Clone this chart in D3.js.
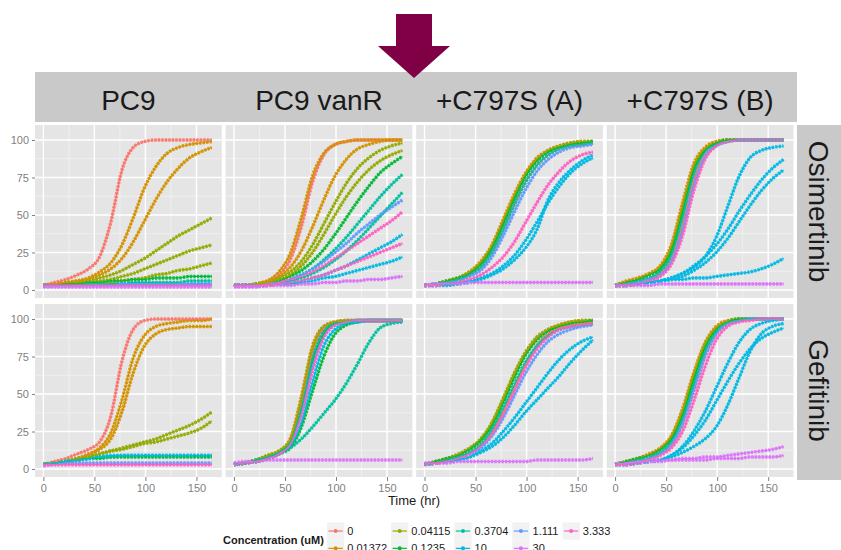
<!DOCTYPE html>
<html>
<head>
<meta charset="utf-8">
<script src="https://cdn.jsdelivr.net/npm/d3@7"></script>
<style>
  body { margin: 0; background: #fff; }
  svg { display: block; font-family: "Liberation Sans", Arial, sans-serif; }
</style>
</head>
<body>
<div id="chart"></div>
<script>
const hours = [0, 11, 22, 33, 44, 55, 66, 77, 88, 99, 110, 121, 132, 143, 154, 165];
const cellLines = ["PC9", "PC9 vanR", "+C797S (A)", "+C797S (B)"];
const drugs = ["Osimertinib", "Gefitinib"];
const concLevels = ["0", "0.01372", "0.04115", "0.1235", "0.3704", "10", "1.111", "30", "3.333"];
const concColors = ["#F8766D", "#D39200", "#93AA00", "#00BA38", "#00C19F", "#00B9E3", "#619CFF", "#DB72FB", "#FF61C3"];
const yTicks = [0, 25, 50, 75, 100];
const xTicks = [0, 50, 100, 150];

// confluence (%) per concentration, one row per replicate
const osiPC9 = [
  ["0", [3, 5, 7, 10, 14, 22, 45, 80, 95, 99, 100, 100, 100, 100, 100, 100]],
  ["0.01372", [3, 4, 5, 6, 8, 12, 18, 30, 48, 68, 82, 91, 95, 97, 98, 99]],
  ["0.01372", [3, 4, 5, 6, 7, 10, 14, 21, 32, 46, 60, 72, 81, 88, 92, 95]],
  ["0.04115", [3, 3, 4, 5, 6, 8, 10, 13, 17, 21, 26, 31, 36, 40, 44, 48]],
  ["0.04115", [3, 3, 4, 4, 5, 6, 7, 9, 11, 14, 17, 20, 23, 26, 28, 30]],
  ["0.04115", [3, 3, 3, 4, 4, 5, 5, 6, 7, 8, 10, 11, 13, 14, 16, 18]],
  ["0.1235", [3, 3, 4, 4, 5, 5, 6, 6, 7, 7, 8, 8, 8, 9, 9, 9]],
  ["0.3704", [3, 3, 3, 3, 4, 4, 4, 4, 5, 5, 5, 5, 5, 6, 6, 6]],
  ["10", [3, 3, 3, 3, 3, 3, 4, 4, 4, 4, 4, 4, 4, 4, 4, 4]],
  ["1.111", [3, 3, 3, 3, 3, 3, 3, 4, 4, 4, 4, 4, 4, 4, 4, 4]],
  ["30", [2, 2, 2, 2, 2, 2, 2, 2, 2, 2, 2, 2, 2, 2, 2, 2]],
  ["3.333", [3, 3, 3, 3, 3, 3, 3, 3, 3, 3, 3, 3, 3, 3, 3, 3]]
];

const osiVanR = [
  ["0", [3, 3, 4, 6, 10, 20, 42, 72, 90, 97, 99, 100, 100, 100, 100, 100]],
  ["0.01372", [3, 3, 4, 6, 12, 24, 48, 76, 91, 97, 99, 100, 100, 100, 100, 100]],
  ["0.01372", [3, 3, 4, 6, 9, 15, 26, 42, 60, 76, 87, 94, 97, 99, 100, 100]],
  ["0.04115", [3, 3, 4, 5, 8, 12, 19, 30, 44, 58, 71, 81, 88, 93, 96, 98]],
  ["0.04115", [3, 3, 4, 5, 7, 10, 16, 25, 37, 50, 62, 72, 80, 86, 90, 93]],
  ["0.1235", [3, 3, 3, 4, 6, 9, 13, 19, 27, 37, 48, 59, 69, 78, 84, 89]],
  ["0.3704", [3, 3, 3, 4, 5, 7, 10, 14, 20, 27, 35, 44, 53, 62, 70, 77]],
  ["0.3704", [3, 3, 3, 4, 5, 6, 8, 11, 15, 20, 26, 33, 41, 49, 57, 65]],
  ["10", [3, 3, 3, 3, 4, 5, 6, 8, 10, 13, 16, 20, 24, 28, 32, 37]],
  ["10", [3, 3, 3, 3, 4, 4, 5, 6, 8, 9, 11, 13, 15, 17, 19, 22]],
  ["1.111", [3, 3, 3, 4, 5, 7, 10, 14, 19, 25, 31, 38, 44, 50, 55, 60]],
  ["30", [2, 2, 2, 3, 3, 3, 4, 4, 5, 5, 6, 6, 7, 7, 8, 9]],
  ["3.333", [3, 3, 3, 4, 5, 7, 9, 12, 16, 21, 26, 31, 36, 41, 46, 52]],
  ["3.333", [3, 3, 3, 3, 4, 5, 6, 8, 10, 13, 16, 19, 22, 25, 28, 31]]
];

const osiC797SA = [
  ["0", [3, 4, 5, 7, 10, 15, 25, 40, 57, 72, 83, 90, 94, 96, 97, 98]],
  ["0.01372", [3, 4, 6, 8, 12, 19, 30, 47, 64, 78, 88, 93, 96, 98, 99, 99]],
  ["0.04115", [3, 4, 6, 8, 12, 18, 29, 45, 62, 77, 87, 93, 96, 98, 99, 99]],
  ["0.1235", [3, 4, 6, 8, 11, 17, 28, 44, 61, 76, 86, 92, 95, 97, 98, 99]],
  ["0.3704", [3, 4, 5, 7, 10, 15, 25, 40, 57, 72, 83, 90, 94, 96, 97, 98]],
  ["10", [3, 3, 4, 5, 6, 8, 11, 16, 23, 33, 45, 58, 69, 78, 84, 88]],
  ["10", [3, 3, 3, 4, 5, 7, 10, 14, 20, 28, 40, 60, 72, 80, 86, 90]],
  ["1.111", [3, 4, 5, 6, 9, 13, 22, 36, 52, 67, 79, 87, 92, 95, 96, 97]],
  ["30", [3, 4, 4, 4, 5, 5, 5, 5, 5, 5, 5, 5, 5, 5, 5, 5]],
  ["3.333", [3, 3, 4, 5, 7, 10, 15, 22, 32, 45, 58, 70, 79, 86, 90, 92]]
];

const osiC797SB = [
  ["0", [3, 4, 5, 7, 11, 20, 43, 73, 91, 97, 99, 100, 100, 100, 100, 100]],
  ["0.01372", [3, 6, 8, 11, 16, 30, 58, 84, 95, 99, 100, 100, 100, 100, 100, 100]],
  ["0.04115", [3, 5, 7, 10, 15, 27, 54, 81, 94, 98, 100, 100, 100, 100, 100, 100]],
  ["0.1235", [3, 5, 7, 10, 14, 26, 52, 80, 93, 98, 100, 100, 100, 100, 100, 100]],
  ["0.3704", [3, 4, 6, 8, 12, 23, 48, 77, 92, 97, 99, 100, 100, 100, 100, 100]],
  ["10", [3, 3, 4, 5, 6, 8, 11, 16, 22, 30, 40, 52, 63, 73, 81, 87]],
  ["10", [3, 3, 4, 5, 6, 7, 9, 13, 18, 25, 34, 45, 56, 66, 74, 80]],
  ["10", [3, 3, 4, 5, 6, 8, 11, 15, 22, 35, 55, 75, 88, 93, 95, 96]],
  ["10", [3, 3, 4, 5, 6, 7, 7, 8, 8, 9, 10, 11, 12, 14, 17, 21]],
  ["1.111", [3, 4, 5, 7, 10, 19, 40, 70, 89, 96, 99, 100, 100, 100, 100, 100]],
  ["30", [3, 3, 3, 3, 4, 4, 4, 4, 4, 4, 4, 4, 4, 4, 4, 4]],
  ["3.333", [3, 3, 4, 6, 9, 17, 36, 66, 87, 96, 99, 100, 100, 100, 100, 100]]
];

const gefPC9 = [
  ["0", [3, 5, 7, 10, 13, 18, 35, 72, 93, 99, 100, 100, 100, 100, 100, 100]],
  ["0.01372", [3, 4, 5, 7, 10, 14, 24, 46, 74, 89, 95, 97, 98, 99, 99, 100]],
  ["0.01372", [3, 4, 5, 7, 9, 13, 20, 38, 64, 82, 90, 93, 94, 95, 95, 95]],
  ["0.04115", [3, 4, 5, 6, 8, 10, 12, 13, 15, 17, 18, 20, 22, 24, 27, 32]],
  ["0.04115", [3, 4, 5, 7, 8, 10, 12, 14, 16, 18, 20, 23, 26, 29, 33, 38]],
  ["0.1235", [3, 4, 5, 6, 7, 7, 8, 8, 8, 8, 8, 8, 8, 8, 8, 8]],
  ["0.3704", [3, 4, 5, 6, 7, 8, 8, 9, 9, 9, 9, 9, 9, 9, 9, 9]],
  ["10", [3, 4, 5, 6, 7, 8, 9, 9, 9, 9, 9, 9, 9, 9, 9, 9]],
  ["1.111", [3, 3, 4, 4, 4, 4, 4, 4, 4, 4, 4, 4, 4, 4, 4, 4]],
  ["30", [2, 3, 3, 3, 3, 3, 3, 3, 3, 3, 3, 3, 3, 3, 3, 3]],
  ["3.333", [3, 3, 3, 3, 3, 3, 3, 3, 3, 3, 3, 3, 3, 3, 3, 3]]
];

const gefVanR = [
  ["0", [3, 4, 6, 8, 11, 17, 42, 78, 94, 98, 99, 99, 99, 99, 99, 99]],
  ["0.01372", [3, 4, 6, 9, 12, 20, 48, 82, 95, 98, 99, 99, 99, 99, 99, 99]],
  ["0.04115", [3, 4, 6, 9, 12, 19, 46, 80, 95, 98, 99, 99, 99, 99, 99, 99]],
  ["0.1235", [3, 4, 6, 8, 11, 17, 40, 72, 90, 97, 98, 99, 99, 99, 99, 99]],
  ["0.1235", [3, 4, 5, 7, 10, 14, 28, 52, 75, 90, 96, 98, 99, 99, 99, 99]],
  ["0.3704", [3, 4, 5, 7, 10, 14, 20, 28, 37, 46, 57, 70, 84, 94, 97, 98]],
  ["0.3704", [3, 4, 6, 8, 11, 17, 40, 74, 92, 97, 98, 99, 99, 99, 99, 99]],
  ["10", [3, 4, 5, 7, 10, 15, 30, 58, 82, 93, 97, 98, 99, 99, 99, 99]],
  ["1.111", [3, 4, 5, 7, 10, 16, 36, 68, 88, 96, 98, 99, 99, 99, 99, 99]],
  ["30", [4, 5, 5, 6, 6, 6, 6, 6, 6, 6, 6, 6, 6, 6, 6, 6]],
  ["3.333", [3, 4, 5, 7, 10, 16, 36, 66, 88, 96, 98, 99, 99, 99, 99, 99]]
];

const gefC797SA = [
  ["0", [3, 4, 5, 7, 10, 15, 24, 38, 54, 70, 82, 90, 94, 96, 97, 98]],
  ["0.01372", [3, 5, 7, 9, 13, 19, 30, 46, 63, 77, 87, 93, 96, 98, 99, 99]],
  ["0.04115", [3, 5, 7, 10, 14, 20, 31, 47, 64, 78, 88, 93, 96, 98, 99, 99]],
  ["0.1235", [3, 5, 7, 9, 13, 19, 29, 44, 61, 76, 86, 92, 95, 97, 98, 99]],
  ["0.3704", [3, 4, 6, 8, 11, 16, 26, 40, 56, 71, 82, 89, 93, 95, 96, 97]],
  ["10", [3, 4, 5, 6, 8, 12, 17, 25, 34, 44, 54, 64, 73, 80, 85, 88]],
  ["10", [3, 4, 5, 6, 8, 11, 15, 21, 29, 38, 46, 54, 62, 71, 79, 86]],
  ["1.111", [3, 4, 5, 7, 10, 14, 22, 34, 49, 64, 76, 85, 90, 93, 95, 96]],
  ["30", [4, 4, 4, 5, 5, 5, 5, 5, 5, 5, 6, 6, 6, 6, 6, 7]],
  ["3.333", [3, 4, 5, 7, 10, 15, 23, 36, 52, 68, 80, 88, 93, 95, 96, 97]]
];

const gefC797SB = [
  ["0", [3, 4, 5, 7, 10, 16, 30, 52, 75, 90, 97, 99, 100, 100, 100, 100]],
  ["0.01372", [3, 5, 7, 10, 14, 22, 40, 64, 84, 95, 99, 100, 100, 100, 100, 100]],
  ["0.04115", [3, 5, 7, 9, 13, 21, 38, 62, 83, 94, 98, 100, 100, 100, 100, 100]],
  ["0.1235", [3, 5, 7, 9, 13, 20, 36, 60, 81, 93, 98, 100, 100, 100, 100, 100]],
  ["0.3704", [3, 4, 6, 8, 11, 18, 33, 56, 78, 91, 97, 99, 100, 100, 100, 100]],
  ["10", [3, 3, 4, 5, 6, 9, 14, 22, 32, 45, 58, 70, 80, 87, 91, 94]],
  ["10", [3, 3, 4, 5, 6, 8, 11, 15, 20, 28, 42, 60, 78, 90, 95, 97]],
  ["10", [3, 3, 4, 5, 6, 9, 15, 25, 38, 54, 70, 84, 93, 97, 99, 100]],
  ["1.111", [3, 4, 5, 7, 10, 16, 30, 52, 75, 90, 97, 99, 100, 100, 100, 100]],
  ["30", [3, 4, 5, 5, 6, 6, 7, 7, 8, 8, 9, 10, 11, 12, 13, 15]],
  ["30", [3, 4, 4, 5, 5, 6, 6, 6, 6, 7, 7, 7, 8, 8, 8, 9]],
  ["3.333", [3, 3, 4, 6, 9, 14, 25, 45, 68, 86, 95, 98, 99, 100, 100, 100]]
];

const panels = [
  ["Osimertinib", "PC9", osiPC9], ["Osimertinib", "PC9 vanR", osiVanR],
  ["Osimertinib", "+C797S (A)", osiC797SA], ["Osimertinib", "+C797S (B)", osiC797SB],
  ["Gefitinib", "PC9", gefPC9], ["Gefitinib", "PC9 vanR", gefVanR],
  ["Gefitinib", "+C797S (A)", gefC797SA], ["Gefitinib", "+C797S (B)", gefC797SB]
];

const width = 841;
const height = 550;

const svg = d3.select("#chart")
  .append("svg")
  .attr("width", width)
  .attr("height", height);

const colScale = d3.scaleBand().domain(cellLines).range([35, 793.5]).paddingInner(0.02);
const rowScale = d3.scaleBand().domain(drugs).range([125, 477]).paddingInner(0.034);
const x = d3.scaleLinear().domain([-8.2, 174.8]).range([0, colScale.bandwidth()]);
const y = d3.scaleLinear().domain([-5.33, 110]).range([rowScale.bandwidth(), 0]);
const color = d3.scaleOrdinal(concLevels, concColors);

const line = d3.line()
  .x((v, i) => x(hours[i]))
  .y(v => y(v))
  .curve(d3.curveMonotoneX);

// strips
svg.append("rect")
  .attr("x", 35).attr("y", 72)
  .attr("width", 762).attr("height", 50)
  .attr("fill", "#C9C9C9");

svg.selectAll(".col-label")
  .data(cellLines)
  .enter()
  .append("text")
  .attr("x", d => colScale(d) + colScale.bandwidth() / 2)
  .attr("y", 110)
  .attr("text-anchor", "middle")
  .attr("font-size", 28)
  .attr("fill", "#1a1a1a")
  .text(d => d);

svg.append("rect")
  .attr("x", 797).attr("y", 125)
  .attr("width", 60).attr("height", 355)
  .attr("fill", "#C9C9C9");

svg.selectAll(".row-label")
  .data(drugs)
  .enter()
  .append("text")
  .attr("transform", d => `translate(809,${rowScale(d) + rowScale.bandwidth() / 2}) rotate(90)`)
  .attr("text-anchor", "middle")
  .attr("font-size", 28)
  .attr("fill", "#1a1a1a")
  .text(d => d);

// panels
panels.forEach(([drug, cell, series]) => {
  const g = svg.append("g")
    .attr("transform", `translate(${colScale(cell)},${rowScale(drug)})`);

  g.append("rect")
    .attr("width", colScale.bandwidth())
    .attr("height", rowScale.bandwidth())
    .attr("fill", "#E5E5E5");

  // minor grid
  [25, 75, 125].forEach(t => {
    g.append("line").attr("x1", x(t)).attr("x2", x(t)).attr("y1", 0).attr("y2", rowScale.bandwidth())
      .attr("stroke", "#F2F2F2").attr("stroke-width", 0.8);
  });
  [12.5, 37.5, 62.5, 87.5].forEach(v => {
    g.append("line").attr("x1", 0).attr("x2", colScale.bandwidth()).attr("y1", y(v)).attr("y2", y(v))
      .attr("stroke", "#F2F2F2").attr("stroke-width", 0.8);
  });
  // major grid
  xTicks.forEach(t => {
    g.append("line").attr("x1", x(t)).attr("x2", x(t)).attr("y1", 0).attr("y2", rowScale.bandwidth())
      .attr("stroke", "#fff").attr("stroke-width", 1.4);
  });
  yTicks.forEach(v => {
    g.append("line").attr("x1", 0).attr("x2", colScale.bandwidth()).attr("y1", y(v)).attr("y2", y(v))
      .attr("stroke", "#fff").attr("stroke-width", 1.4);
  });

  // measured points (dense markers)
  g.selectAll(".pts")
    .data(series)
    .enter()
    .append("path")
    .attr("d", d => line(d[1]))
    .attr("fill", "none")
    .attr("stroke", d => color(d[0]))
    .attr("stroke-width", 3.4)
    .attr("stroke-dasharray", "2.4 1.1")
    .attr("opacity", 0.9);

  // fitted curves
  g.selectAll(".fit")
    .data(series)
    .enter()
    .append("path")
    .attr("d", d => line(d[1]))
    .attr("fill", "none")
    .attr("stroke", d => color(d[0]))
    .attr("stroke-width", 1.2);

  if (cell === cellLines[0]) {
    const ax = g.append("g").call(d3.axisLeft(y).tickValues(yTicks).tickSize(3).tickPadding(3));
    ax.select(".domain").remove();
    ax.selectAll("line").attr("stroke", "#7F7F7F");
    ax.selectAll("text").attr("fill", "#7F7F7F").attr("font-size", 11)
      .attr("font-family", "Liberation Sans, Arial, sans-serif");
  }
  if (drug === drugs[1]) {
    const ax = g.append("g")
      .attr("transform", `translate(0,${rowScale.bandwidth()})`)
      .call(d3.axisBottom(x).tickValues(xTicks).tickSize(4).tickPadding(3));
    ax.select(".domain").remove();
    ax.selectAll("line").attr("stroke", "#7F7F7F");
    ax.selectAll("text").attr("fill", "#7F7F7F").attr("font-size", 11)
      .attr("font-family", "Liberation Sans, Arial, sans-serif");
  }
});

// axis title
svg.append("text")
  .attr("x", 414)
  .attr("y", 505)
  .attr("text-anchor", "middle")
  .attr("font-size", 13)
  .attr("fill", "#1a1a1a")
  .text("Time (hr)");

// arrow above the strip
svg.append("path")
  .attr("d", "M396,14 L432,14 L432,46 L450,46 L414,78 L378,46 L396,46 Z")
  .attr("fill", "#7F0045");

// legend
const legend = svg.append("g");
legend.append("text")
  .attr("x", 223)
  .attr("y", 544)
  .attr("font-size", 11)
  .attr("font-weight", "bold")
  .attr("fill", "#1a1a1a")
  .text("Concentration (uM)");

const keySize = 17.3;
const nRows = 2;
let keyX = 327;
d3.range(Math.ceil(concLevels.length / nRows)).forEach(c => {
  const col = concLevels.slice(c * nRows, c * nRows + nRows);
  let maxW = 0;
  col.forEach((lvl, r) => {
    const ky = 522.4 + r * keySize;
    legend.append("rect")
      .attr("x", keyX).attr("y", ky)
      .attr("width", keySize).attr("height", keySize)
      .attr("fill", "#F2F2F2");
    legend.append("line")
      .attr("x1", keyX + 1.5).attr("x2", keyX + keySize - 1.5)
      .attr("y1", ky + keySize / 2).attr("y2", ky + keySize / 2)
      .attr("stroke", color(lvl)).attr("stroke-width", 1.2);
    legend.append("circle")
      .attr("cx", keyX + keySize / 2).attr("cy", ky + keySize / 2)
      .attr("r", 2).attr("fill", color(lvl));
    const t = legend.append("text")
      .attr("x", keyX + keySize + 3)
      .attr("y", ky + keySize / 2 + 4)
      .attr("font-size", 11)
      .attr("fill", "#1a1a1a")
      .text(lvl);
    maxW = Math.max(maxW, t.node().getComputedTextLength());
  });
  keyX += keySize + 3 + maxW + 4;
});
</script>
</body>
</html>
